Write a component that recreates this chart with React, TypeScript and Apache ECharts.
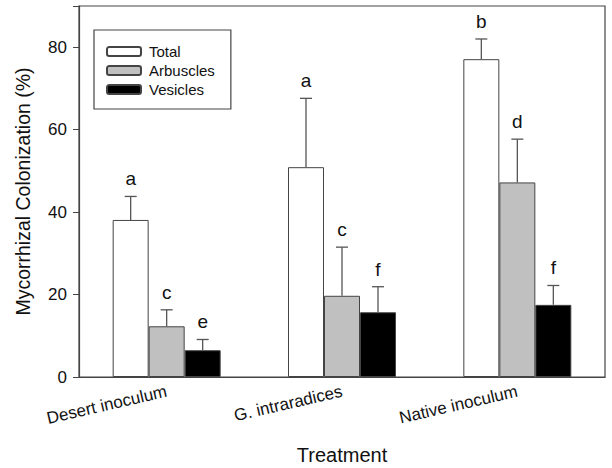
import React, { useEffect, useRef } from "react";
import * as echarts from "echarts";

const categories = ["Desert inoculum", "G. intraradices", "Native inoculum"];
const seriesNames = ["Total", "Arbuscles", "Vesicles"];
const totalMean = [38.1, 50.9, 77.1];
const totalErr = [43.8, 67.6, 82.0];
const arbMean = [12.3, 19.7, 47.2];
const arbErr = [16.3, 31.5, 57.7];
const vesMean = [6.5, 15.7, 17.5];
const vesErr = [9.1, 21.9, 22.2];
const totalLetters = ["a", "a", "b"];
const arbLetters = ["c", "c", "d"];
const vesLetters = ["e", "f", "f"];
const yTicks = [0, 20, 40, 60, 80];

const FONT = "'Liberation Sans', Arial, Helvetica, sans-serif";
const BAR_WIDTH = 36;
const LINE = "#444";

export default function App() {
  const ref = useRef<HTMLDivElement>(null);
  useEffect(() => {
    if (!ref.current) return;
    const chart = echarts.init(ref.current, null, { renderer: "svg" });
    const means = [totalMean, arbMean, vesMean];
    const errs = [totalErr, arbErr, vesErr];
    const letters = [totalLetters, arbLetters, vesLetters];
    const fills = ["#ffffff", "#c0c0c0", "#000000"];

    const barSeries = seriesNames.map((name, i) => ({
      name,
      type: "bar",
      data: means[i],
      barWidth: BAR_WIDTH,
      barGap: "0%",
      itemStyle: { color: fills[i], borderColor: LINE, borderWidth: 1 },
      z: 2,
    }));

    const errSeries = seriesNames.map((name, si) => ({
      name: name + "_err",
      type: "custom",
      z: 3,
      data: categories.map((_, ci) => [ci, means[si][ci], errs[si][ci]]),
      renderItem: (params: any, api: any) => {
        const ci = api.value(0);
        const base = api.coord([ci, api.value(1)]);
        const top = api.coord([ci, api.value(2)]);
        const x = base[0] + (si - 1) * BAR_WIDTH;
        const letter = letters[si][ci];
        return {
          type: "group",
          children: [
            { type: "line", shape: { x1: x, y1: base[1], x2: x, y2: top[1] }, style: { stroke: "#555", lineWidth: 1.3 } },
            { type: "line", shape: { x1: x - 6, y1: top[1], x2: x + 6, y2: top[1] }, style: { stroke: "#555", lineWidth: 1.3 } },
            {
              type: "text",
              style: {
                text: letter,
                x: x,
                y: top[1] - 8,
                align: "center",
                verticalAlign: "bottom",
                fontSize: 19,
                fontFamily: FONT,
                fill: "#111",
              },
            },
          ],
        };
      },
    }));

    chart.setOption({
      animation: false,
      backgroundColor: "#fff",
      grid: { left: 79, top: 6, right: 7, bottom: 91, show: true, borderColor: LINE, borderWidth: 1.2, backgroundColor: "transparent" },
      legend: {
        data: seriesNames,
        orient: "vertical",
        left: 94,
        top: 30,
        itemWidth: 34,
        itemHeight: 9,
        itemGap: 4,
        padding: [14, 16, 12, 12],
        borderColor: LINE,
        borderWidth: 1.2,
        textStyle: { fontFamily: FONT, fontSize: 15, color: "#111", padding: [0, 0, 0, 3] },
        selectedMode: false,
      },
      xAxis: {
        type: "category",
        data: categories,
        boundaryGap: true,
        axisLine: { lineStyle: { color: LINE, width: 1.2 } },
        axisTick: { alignWithLabel: true, length: 5, lineStyle: { color: LINE } },
        axisLabel: { rotate: 13, margin: 14, fontFamily: FONT, fontSize: 17, color: "#111", interval: 0 },
      },
      yAxis: {
        type: "value",
        min: 0,
        max: 90,
        interval: 20,
        splitLine: { show: false },
        axisLine: { show: true, lineStyle: { color: LINE, width: 1.2 } },
        axisTick: { show: true, length: 6, lineStyle: { color: LINE } },
        axisLabel: {
          fontFamily: FONT,
          fontSize: 17,
          color: "#111",
          margin: 12,
          formatter: (v: number) => (yTicks.indexOf(v) >= 0 ? String(v) : ""),
        },
        name: "Mycorrhizal Colonization (%)",
        nameLocation: "middle",
        nameGap: 46,
        nameTextStyle: { fontFamily: FONT, fontSize: 19.5, color: "#111" },
      },
      graphic: [
        {
          type: "text",
          style: { text: "Treatment", x: 342, y: 445, align: "center", verticalAlign: "top", fontFamily: FONT, fontSize: 20, fill: "#111" },
        },
      ],
      series: [...barSeries, ...errSeries],
    });
    return () => chart.dispose();
  }, []);
  return <div ref={ref} style={{ position: "absolute", left: 0, top: 0, width: 612, height: 468 }} />;
}
